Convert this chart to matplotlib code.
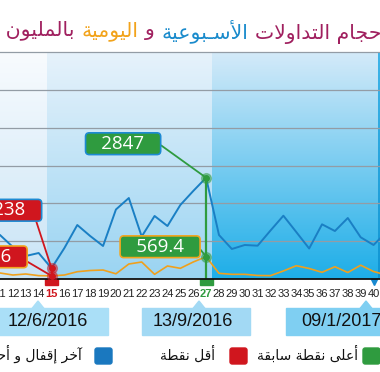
import numpy as np
import matplotlib
matplotlib.use('Agg')
import matplotlib.pyplot as plt
from matplotlib import font_manager
from matplotlib.patches import FancyBboxPatch, Polygon, Rectangle
from matplotlib.transforms import blended_transform_factory

# ---- data ----
days = list(range(10, 42))
weekly = [1052, 1196, 850, 591, 677, 238, 821, 1484, 1167, 879, 1931, 2262,
          1153, 1744, 1455, 2061, 2464, 2847, 1196, 793, 908, 888, 1326, 1752,
          1282, 807, 1504, 1311, 1686, 1130, 908, 1282]
daily = [86, 101, 43, 72, 25, 18.6, 43, 138, 173, 187, 78, 360, 418, 63, 303,
         236, 418, 569.4, 92, 63, 63, 30, 25, 159, 311, 231, 121, 282, 115,
         326, 144, 43]
tick_days = list(range(11, 41))
date_labels = ['12/6/2016', '13/9/2016', '09/1/2017']
title_parts = [('أحجام التداولات', '#a0205f'), ('الأسـبوعية', '#1a8bcc'),
               ('و', '#a0205f'), ('اليومية', '#f2a31b'),
               ('بالمليون دينار', '#a0205f')]
legend_labels = ['أعلى نقطة سابقة', 'أقل نقطة', 'آخر إقفال و أحجام التداول']

BLUE = '#1a7fc4'
ORANGE = '#f0a01c'
GREEN = '#2f9b3f'
RED = '#d0161e'
W, H = 380, 372

# ---- minimal arabic shaping (presentation forms + reversal) ----
DUAL = {'ب': 0xFE8F, 'ت': 0xFE95, 'ث': 0xFE99, 'ج': 0xFE9D, 'ح': 0xFEA1,
        'خ': 0xFEA5, 'س': 0xFEB1, 'ش': 0xFEB5, 'ص': 0xFEB9, 'ض': 0xFEBD,
        'ط': 0xFEC1, 'ظ': 0xFEC5, 'ع': 0xFEC9, 'غ': 0xFECD, 'ف': 0xFED1,
        'ق': 0xFED5, 'ك': 0xFED9, 'ل': 0xFEDD, 'م': 0xFEE1, 'ن': 0xFEE5,
        'ه': 0xFEE9, 'ي': 0xFEF1, 'ئ': 0xFE89}
RIGHT = {'آ': 0xFE81, 'أ': 0xFE83, 'ؤ': 0xFE85, 'إ': 0xFE87, 'ا': 0xFE8D,
         'ة': 0xFE93, 'د': 0xFEA9, 'ذ': 0xFEAB, 'ر': 0xFEAD, 'ز': 0xFEAF,
         'و': 0xFEED, 'ى': 0xFEEF}
LAMALEF = {'آ': 0xFEF5, 'أ': 0xFEF7, 'إ': 0xFEF9, 'ا': 0xFEFB}


def shape(s):
    items = []
    i = 0
    while i < len(s):
        if s[i] == 'ل' and i + 1 < len(s) and s[i + 1] in LAMALEF:
            items.append(('LA', s[i + 1]))
            i += 2
        else:
            items.append(('C', s[i]))
            i += 1

    def jt(it):
        kind, c = it
        if kind == 'LA' or c in RIGHT:
            return 'R'
        if c in DUAL or c == 'ـ':
            return 'D'
        return 'U'

    out = []
    for k, it in enumerate(items):
        t = jt(it)
        prev = jt(items[k - 1]) if k > 0 else 'U'
        nxt = jt(items[k + 1]) if k + 1 < len(items) else 'U'
        jp = t in 'DR' and prev == 'D'
        jn = t == 'D' and nxt in 'DR'
        kind, c = it
        if kind == 'LA':
            out.append(chr(LAMALEF[c] + jp))
        elif c in DUAL:
            out.append(chr(DUAL[c] + (3 if jp and jn else 2 if jn else 1 if jp else 0)))
        elif c in RIGHT:
            out.append(chr(RIGHT[c] + jp))
        else:
            out.append(c)
    return ''.join(reversed(out))


names = {f.name for f in font_manager.fontManager.ttflist}
tick_font = 'Liberation Sans Narrow' if 'Liberation Sans Narrow' in names else 'Liberation Sans'


def fx(x):
    return x / W


def fy(y):
    return 1 - y / H


fig = plt.figure(figsize=(3.8, 3.72), dpi=100)
ax = fig.add_axes([0, fy(279), 1, (279 - 52) / H])

xlo, xhi = 11.05, 40.5
ylo, yhi = -72, 6470

# background bands (vertical gradients)
bands = [(xlo - 1, 14.67, '#f8fbfe', '#c9e4f6'),
         (14.67, 27.48, '#e6f2fb', '#9ad4f2'),
         (27.48, 40.35, '#d3eaf9', '#1eaee8'),
         (40.35, xhi + 1, '#3fb4e8', '#0f95d3')]
for x0, x1, ctop, cbot in bands:
    a = np.array(matplotlib.colors.to_rgb(ctop))
    b = np.array(matplotlib.colors.to_rgb(cbot))
    tt = np.linspace(0, 1, 64)[:, None]
    grad = (a * (1 - tt) + b * tt)[:, None, :]
    ax.imshow(grad, extent=(x0, x1, ylo, yhi), aspect='auto', zorder=0,
              interpolation='bilinear')

for k in range(1, 7):
    ax.axhline(ylo + k * (yhi - ylo) / 6, color='#939ca5', lw=0.9, zorder=1,
               clip_on=False)

ax.plot(days, weekly, color=BLUE, lw=1.4, zorder=3)
ax.plot(days, daily, color=ORANGE, lw=1.2, zorder=3)

ax.set_xlim(xlo, xhi)
ax.set_ylim(ylo, yhi)
for s in ['top', 'left', 'right']:
    ax.spines[s].set_visible(False)
ax.spines['bottom'].set_color('#111111')
ax.spines['bottom'].set_linewidth(1.3)
ax.spines['bottom'].set_zorder(5)
ax.set_yticks([])
ax.set_xticks(tick_days)
ax.set_xticklabels([str(d) for d in tick_days], fontsize=8, family=tick_font,
                   color='#222222')
ax.tick_params(axis='x', length=0, pad=7)

vis = [i for i, d in enumerate(days) if 11 <= d <= 40]
i_hi = max(vis, key=lambda i: weekly[i])
i_lo = min(vis, key=lambda i: weekly[i])
j_hi = max(vis, key=lambda i: daily[i])
j_lo = min(vis, key=lambda i: daily[i])

bt = blended_transform_factory(ax.transData, ax.transAxes)
for lbl in ax.get_xticklabels():
    if lbl.get_text() == str(days[i_lo]):
        lbl.set_color(RED)
        lbl.set_fontweight('bold')
    if lbl.get_text() == str(days[i_hi]):
        lbl.set_color(GREEN)
        lbl.set_fontweight('bold')

# vertical markers and blocks under the axis
for idx, col in [(i_hi, GREEN), (i_lo, RED)]:
    d = days[idx]
    ax.plot([d, d], [weekly[idx], ylo], color=col, lw=1.6, zorder=4)
    ax.add_patch(Rectangle((d - 0.5, -0.028), 1.0, 0.028, transform=bt,
                           color=col, clip_on=False, zorder=5))
ax.plot([40], [-0.012], marker='v', ms=4, color='#1a8ad0', transform=bt,
        clip_on=False, zorder=5)

for idx, col, ser in [(i_hi, GREEN, weekly), (j_hi, GREEN, daily),
                      (i_lo, RED, weekly), (j_lo, RED, daily)]:
    ax.plot(days[idx], ser[idx], 'o', ms=7, color=col, alpha=0.45, zorder=6)
    ax.plot(days[idx], ser[idx], 'o', ms=4, color=col, zorder=6)


def tag(day, val, face, edge, dx, dy, rel):
    txt = '\u2002 {:g} \u2002'.format(val)
    ax.annotate(txt, xy=(day, val), xytext=(dx, dy), textcoords='offset pixels',
                ha='center', va='center', color='white', fontsize=13.5,
                family=['Open Sans', 'DejaVu Sans'],
                bbox=dict(boxstyle='round,pad=0.1,rounding_size=0.2', fc=face,
                          ec=edge, lw=1.2),
                arrowprops=dict(arrowstyle='-', color=face, lw=1.3, relpos=rel,
                                shrinkA=0, shrinkB=0),
                annotation_clip=False, zorder=7)


tag(days[i_hi], weekly[i_hi], GREEN, '#1d8ad3', -83, 34, (1, 0.5))
tag(days[j_hi], daily[j_hi], GREEN, '#f2a51f', -46, 10, (1, 0.5))
tag(days[i_lo], weekly[i_lo], RED, '#1d8ad3', -42, 58, (0.93, 0))
tag(days[j_lo], daily[j_lo], RED, '#f2a51f', -59, 19, (1, 0.3))

# date boxes with pointers
boxes = [(-13, 108, 38, 47.5, '#aadff7'), (142, 250, 199, 193, '#a2d9f4'),
         (286, 407, 366, 341, '#7fcff2')]
for (x0, x1, px, tx, col), lab in zip(boxes, date_labels):
    fig.patches.append(Rectangle((fx(x0), fy(335)), fx(x1) - fx(x0),
                                 fy(308) - fy(335), transform=fig.transFigure,
                                 color=col, zorder=2))
    fig.patches.append(Polygon([(fx(px), fy(301)), (fx(px - 6), fy(308.5)),
                                (fx(px + 6), fy(308.5))],
                               transform=fig.transFigure, color=col, zorder=2))
    fig.text(fx(tx), fy(321.5), lab, ha='center', va='center', fontsize=13,
             family='Liberation Sans', color='#111111')

# legend
leg = [(363, 358, GREEN), (230, 215, RED), (95, 82, '#1a78bf')]
for (sx, tx, col), lab in zip(leg, legend_labels):
    fig.patches.append(FancyBboxPatch((fx(sx), fy(364)), fx(17), 16 / H,
                                      boxstyle='round,pad=0,rounding_size=0.006',
                                      transform=fig.transFigure, color=col))
    fig.text(fx(tx), fy(354), shape(lab), ha='right', va='center', fontsize=10,
             family='DejaVu Sans', color='#111111')

# title built from coloured segments, right to left; font sized so that
# "حجام ... بالمليون" spans the same width as in the picture
r = fig.canvas.get_renderer()


def width(s, fs):
    t = fig.text(0, 0, s, fontsize=fs, family='DejaVu Sans')
    w = t.get_window_extent(r).width
    t.remove()
    return w


core = shape('حجام التداولات الأسـبوعية و اليومية بالمليون')
tfs = 12 * 373 / width(core, 12)
gap = width('x x', tfs) - width('xx', tfs)
x_right = 381 + width(shape('أ'), tfs)
for txt, col in title_parts:
    t = fig.text(fx(x_right), fy(31), shape(txt), color=col, ha='right',
                 va='center', fontsize=tfs, family='DejaVu Sans')
    x_right -= t.get_window_extent(r).width + gap

fig.savefig('out.png', dpi=100)
